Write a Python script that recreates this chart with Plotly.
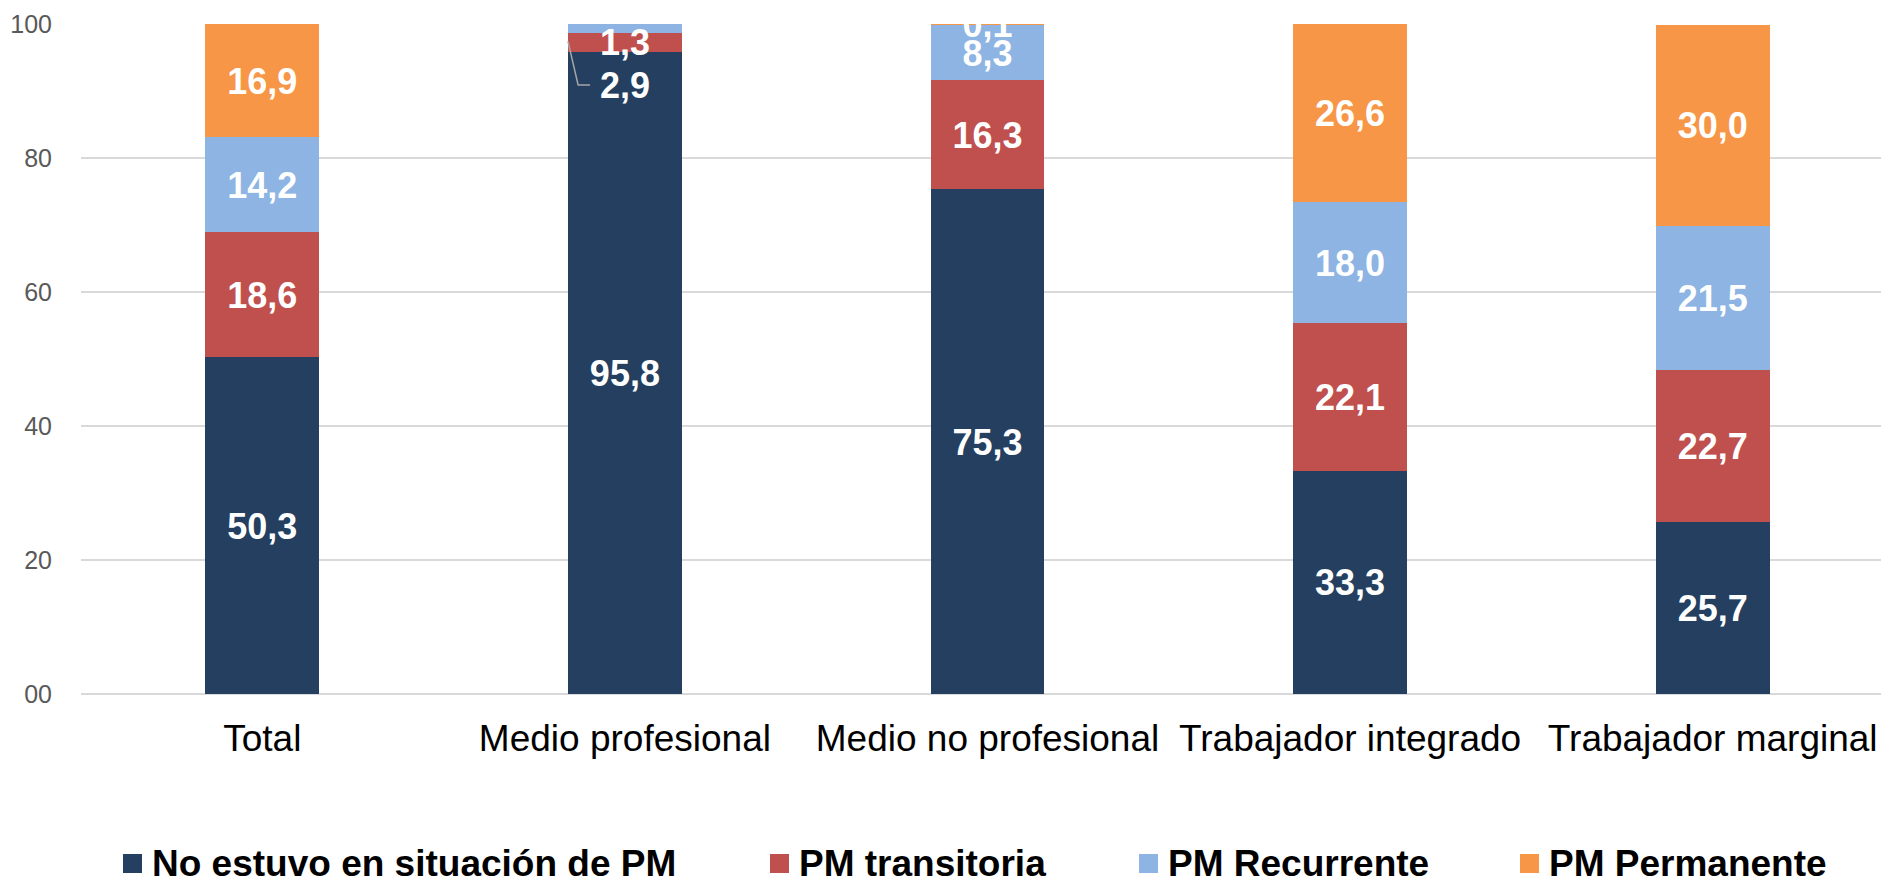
import plotly.graph_objects as go

# ---- data ----
categories = ["Total", "Medio profesional", "Medio no profesional",
              "Trabajador integrado", "Trabajador marginal"]
series_names = ["No estuvo en situación de PM", "PM transitoria",
                "PM Recurrente", "PM Permanente"]
no_pm = [50.3, 95.8, 75.3, 33.3, 25.7]
pm_transitoria = [18.6, 2.9, 16.3, 22.1, 22.7]
pm_recurrente = [14.2, 1.3, 8.3, 18.0, 21.5]
pm_permanente = [16.9, 0.0, 0.1, 26.6, 30.0]
y_tickvals = [0, 20, 40, 60, 80, 100]
y_ticktext = ["00", "20", "40", "60", "80", "100"]

# ---- style ----
colors = ["#243F60", "#C0504D", "#8DB4E2", "#F79646"]
FONT = "Liberation Sans, Arial, sans-serif"
W, H = 1881, 879
ML, MR, MT, MB = 81, 0, 24, 185
PW = W - ML - MR
PH = H - MT - MB
SLOT = 362.6
XMAX = -0.5 + PW / SLOT
BARW = 0.314
LABEL_DY = -0.6  # small vertical nudge of data labels (data units)

all_series = [no_pm, pm_transitoria, pm_recurrente, pm_permanente]

fig = go.Figure()
for name, vals, col in zip(series_names, all_series, colors):
    fig.add_trace(go.Bar(x=categories, y=vals, name=name, marker_color=col,
                         marker_line_width=0, width=BARW, showlegend=False,
                         hovertemplate="%{x}<br>" + name + ": %{y}<extra></extra>"))

# manual label placement adjustments (series index, category index) -> y
label_override = {(1, 1): 90.9, (2, 1): 97.35}

base = [0.0] * len(categories)
for si, vals in enumerate(all_series):
    xs, ys, ts = [], [], []
    for ci, v in enumerate(vals):
        center = base[ci] + v / 2
        if v > 0:
            xs.append(categories[ci])
            ys.append(label_override.get((si, ci), center) + LABEL_DY)
            ts.append(f"{v:.1f}".replace(".", ","))
        base[ci] += v
    fig.add_trace(go.Scatter(x=xs, y=ys, text=ts, mode="text", cliponaxis=True,
                             textposition="middle center",
                             textfont=dict(family=FONT, size=36, color="white",
                                           weight="bold"),
                             showlegend=False, hoverinfo="skip"))

# leader line for the moved "2,9" label
left_edge = 1 - BARW / 2
fig.add_shape(type="path", xref="x", yref="y",
              path=f"M {left_edge},{97.4} L {left_edge + 0.028},{90.9} L {left_edge + 0.061},{90.9}",
              line=dict(color="#A6A6A6", width=1.5))

# ---- manual legend ----
def px_x(px):
    return (px - ML) / PW

def px_y(py):
    return (H - MB - py) / PH

legend_marker_x = [123, 770, 1139, 1520]
for name, col, mx in zip(series_names, colors, legend_marker_x):
    fig.add_shape(type="rect", xref="paper", yref="paper",
                  x0=px_x(mx), x1=px_x(mx + 19), y0=px_y(854), y1=px_y(873),
                  fillcolor=col, line_width=0)
    fig.add_annotation(xref="paper", yref="paper", x=px_x(mx + 27), y=px_y(863),
                       xanchor="left", yanchor="middle", showarrow=False,
                       text=name, font=dict(family=FONT, size=37, color="black",
                                            weight="bold"))

fig.update_layout(
    width=W, height=H, barmode="stack", bargap=0,
    margin=dict(l=ML, r=MR, t=MT, b=MB, pad=0),
    plot_bgcolor="white", paper_bgcolor="white",
    font=dict(family=FONT),
    xaxis=dict(range=[-0.5, XMAX], showgrid=False, showline=False, zeroline=False,
               ticks="outside", ticklen=12, tickcolor="rgba(0,0,0,0)",
               tickfont=dict(family=FONT, size=37, color="black")),
    yaxis=dict(range=[0, 100], tickvals=y_tickvals, ticktext=y_ticktext,
               showgrid=True, gridcolor="#D9D9D9", gridwidth=1.5,
               zeroline=True, zerolinecolor="#D9D9D9", zerolinewidth=1.5,
               showline=False, ticks="outside", ticklen=23,
               tickcolor="rgba(0,0,0,0)",
               tickfont=dict(family=FONT, size=25, color="#595959")),
)

fig.write_html("out.html", config={"displayModeBar": False},
               post_script="document.body.style.margin='0px';document.body.style.overflow='hidden';")
